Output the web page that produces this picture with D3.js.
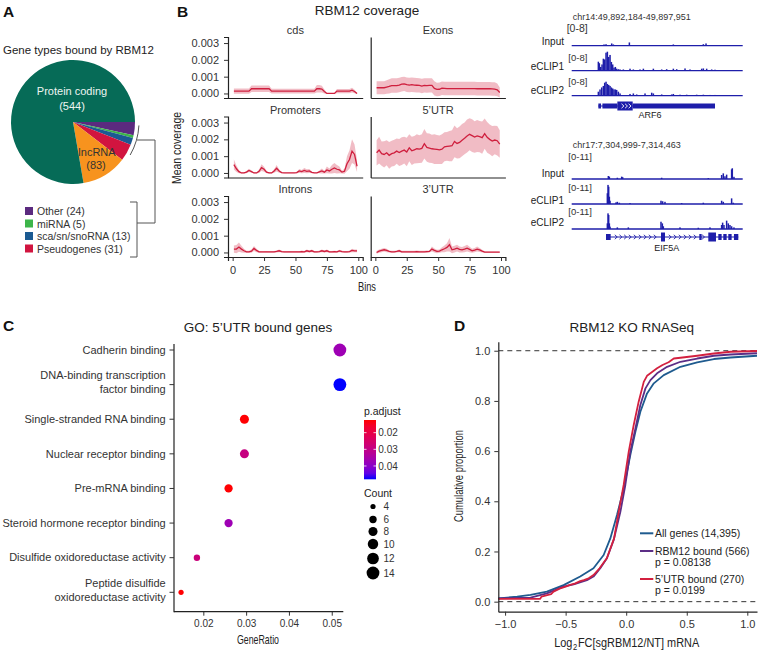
<!DOCTYPE html>
<html><head><meta charset="utf-8">
<script src="https://cdn.jsdelivr.net/npm/d3@7"></script>
<style>
body{margin:0;background:#fff;}
svg{display:block;font-family:"Liberation Sans",Arial,Helvetica,sans-serif;}
</style></head><body>
<svg id="fig" width="759" height="655"></svg>
<script>
// ================= DATA =================
// Panel A
const pieCats   = ["Other","miRNA","sca/sn/snoRNA","Pseudogenes","lncRNA","Protein coding"];
const pieCounts = [24,5,13,31,83,544];
const pieColors = ["#5b2a7f","#3db54a","#1b5a92","#d1143f","#f7931e","#066b57"];
const legendCats = ["Other","miRNA","sca/sn/snoRNA","Pseudogenes"];

// Panel B coverage (values in units of 0.001)
const covPanels = ["cds","Exons","Promoters","5'UTR","Introns","3'UTR"];
const covBins = [1,3,5,7,9,11,13,15,17,19,21,23,25,27,29,31,33,35,37,39,41,43,45,47,49,51,53,55,57,59,61,63,65,67,69,71,73,75,77,79,81,83,85,87,89,91,93,95,97,99];
const covXTicks = [0,25,50,75,100];
const covYTicks = [0,1,2,3];
const cdsMean = [.14,.14,.14,.14,.14,.14,.14,.28,.28,.28, .28,.28,.28,.28,.28,.14,.14,.14,.14,.14, .14,.14,.14,.14,.14,.14,.14,.14,.14,.14, .14,.14,.14,.28,.28,.26,.12,0,0,0, 0,.14,.14,.14,.14,.14,.14,.2,.12,0];
const cdsSE   = [.15,.15,.15,.15,.15,.15,.15,.2,.2,.2, .2,.2,.2,.2,.2,.14,.14,.14,.14,.14, .14,.14,.14,.14,.14,.14,.14,.14,.14,.14, .14,.14,.14,.22,.22,.2,.12,.03,.03,.03, .03,.12,.12,.12,.12,.12,.12,.14,.1,.03];
const exonMean = [.34,.34,.34,.34,.38,.42,.47,.47,.47,.50, .55,.57,.52,.50,.52,.50,.49,.48,.44,.48, .47,.48,.48,.30,.24,.25,.31,.30,.29,.29, .29,.29,.29,.29,.29,.29,.29,.29,.29,.29, .28,.28,.28,.28,.28,.28,.27,.26,.22,.06];
const exonSE   = [.38,.38,.38,.38,.4,.42,.43,.43,.43,.43, .43,.43,.43,.43,.43,.43,.43,.43,.43,.43, .43,.43,.43,.42,.4,.4,.4,.4,.4,.4, .4,.4,.4,.4,.4,.4,.4,.4,.4,.4, .4,.4,.4,.4,.4,.4,.4,.4,.38,.3];
const promMean = [.5,.25,.08,0,0,.05,.15,.08,0,0, .1,.32,.22,.05,0,0,.12,.28,.12,.02, 0,0,0,0,0,.02,.12,.08,.15,.1, .12,.04,0,0,.06,.12,.05,.18,.12,.22, .3,.22,.18,.05,.1,.55,.8,1.3,1.1,.4];
const promSE   = [.3,.2,.1,.03,.03,.06,.1,.06,.03,.03, .1,.2,.15,.06,.03,.03,.1,.2,.1,.04, .02,.02,.02,.02,.02,.04,.12,.1,.15,.12, .12,.05,.02,.02,.08,.15,.08,.2,.15,.25, .3,.25,.2,.08,.15,.45,.55,.7,.6,.35];
const utr5Mean = [1.2,1.36,1.15,1.1,1.2,1.05,1.15,1.2,1.3,1.22, 1.3,1.36,1.25,1.5,1.32,1.38,1.44,1.42,1.46,1.74, 1.52,1.48,1.44,1.42,1.4,1.38,1.42,1.56,1.58,1.6, 1.62,1.88,1.76,1.82,1.95,2.06,2.2,2.3,2.22,2.14, 2.2,2.16,2.1,2.34,2.12,2.0,1.9,1.96,1.92,1.72];
const utr5SE   = [.75,.8,.72,.78,.74,.8,.76,.78,.75,.8, .82,.8,.85,.8,.84,.82,.86,.83,.85,.88, .85,.87,.84,.88,.86,.85,.88,.87,.86,.9, .92,.95,.9,.94,.96,.95,.98,.95,.97,.94, .95,.93,.96,.9,.92,.88,.9,.85,.88,.82];
const intronMean = [.2,.2,.32,.2,.1,.04,.04,.08,.24,.12, .04,.03,.03,.04,.03,.03,.04,.06,.1,.05, .03,.03,.04,.03,.03,.04,.03,.05,.04,.1, .06,.1,.04,.04,.05,.1,.06,.1,.04,.04, .05,.04,.09,.05,.04,.04,.05,.12,.1,.1];
const intronSE   = [.22,.25,.28,.2,.12,.06,.06,.1,.15,.1, .05,.04,.04,.05,.04,.04,.05,.06,.08,.05, .04,.04,.05,.04,.04,.05,.04,.06,.05,.08, .06,.08,.05,.05,.05,.08,.06,.08,.05,.05, .05,.05,.07,.05,.05,.05,.05,.1,.08,.08];
const utr3Mean = [0,.08,.12,.16,.12,.06,.04,.04,.06,.1, .04,.04,.04,.04,.04,.04,.05,.04,.04,.04, .05,.06,.2,.12,.06,.08,.16,.22,.3,.46, .16,.2,.26,.18,.16,.2,.26,.18,.1,.14, .2,.15,.08,.02,.02,.02,.02,.02,.02,.02];
const utr3SE   = [.08,.1,.1,.1,.1,.06,.06,.06,.06,.08, .06,.06,.06,.06,.06,.06,.06,.06,.06,.06, .06,.06,.15,.12,.1,.1,.15,.2,.25,.4, .2,.2,.2,.18,.16,.18,.2,.16,.12,.12, .15,.12,.08,.04,.04,.04,.04,.04,.04,.04];

// Panel B genome tracks (offsets in bp from region start, signal values)
const arf6Region  = ["chr14", 49892184, 49897951];
const arf6Max = 8;
const arf6Input = [[1090,.5],[1158,.6],[1349,.9],[1405,.5],[1945,1.3],[3428,.5],[4440,.6],[4530,.9]];
const arf6Clip1 = [[899,3.6],[933,3.0],[978,1.5],[1023,2.5],[1068,4.8],[1113,4.5],[1158,7.2],[1203,7.6],[1248,5.5],[1293,6.3],[1338,3.5],[1383,2.5],[1427,1.2],[1472,1.5],[1517,.8],[1574,.6],[1630,.5],[1742,.5],[1967,.8],[2079,.5],[2304,.5],[2417,.8],[2754,.8],[3035,.5],[3203,.6],[3428,.8],[3541,.6],[3822,.9],[3990,.5],[4384,.8],[4440,.9],[4552,.8],[4721,.5],[4833,.4]];
const arf6Clip2 = [[899,1.6],[955,2.5],[1012,3.3],[1068,3.9],[1113,5.2],[1158,5.6],[1203,4.7],[1248,4.3],[1293,3.9],[1338,3.3],[1383,2.9],[1427,2.5],[1472,2.5],[1517,2.3],[1574,1.6],[1630,.9],[1967,.7],[2079,.9],[2192,.5],[2473,.9],[2698,1.2],[2754,.9],[3035,.5],[3372,.5],[3428,.7],[3653,.4],[3878,.4],[4215,.4],[4440,.4],[4665,.3],[4833,.3]];
const arf6Exons = [[899,990,"utr"],[1035,1540,"utr"],[1540,2057,"cds"],[2057,4833,"utr"]];
const arf6Strand = [1720,1840,1960];

const eif5aRegion = ["chr17", 7304999, 7314463];
const eif5aMax = 11;
const eif5aInput = [[2028,1.65],[2084,1.3],[2526,.7],[2766,1.3],[2821,1.0],[4979,.7],[7560,.5],[8298,2.2],[8390,3.1],[8482,1.5],[8575,2.4],[8851,5.3],[8888,5.9],[8980,1.2]];
const eif5aClip1 = [[1973,5.9],[2010,10.5],[2047,9.5],[2084,4.0],[2121,1.8],[2453,.9],[2526,1.2],[2637,.7],[3227,.5],[4942,1.8],[5034,1.5],[5163,1.2],[6085,.5],[7284,.7],[8298,1.8],[8390,1.2],[8851,3.1],[8943,.7]];
const eif5aClip2 = [[1973,3.1],[2010,8.6],[2047,7.7],[2084,3.1],[2121,1.3],[2526,.9],[3135,.9],[4942,4.0],[5016,3.1],[5071,1.5],[5993,.9],[7007,.7],[7653,.9],[8298,2.2],[8353,3.5],[8427,2.2],[8575,4.6],[8667,3.1],[8759,2.2],[8851,1.5],[8980,.9]];
const eif5aExons = [[1899,2157,"mid"],[4942,5163,"cds"],[7063,7192,"mid"],[7560,7985,"cds"],[8114,8298,"mid"],[8390,8575,"mid"],[8667,8851,"mid"],[8980,9220,"mid"]];
const eif5aStrand = [2452,2711,2969,3227,3504,3780,4057,4334,4610,5440,5716,5993,6270,6546,6823,7284];
const trackNames = ["Input","eCLIP1","eCLIP2"];

// Panel C
const goTerms = ["Cadherin binding","DNA-binding transcription|factor binding","Single-stranded RNA binding","Nuclear receptor binding","Pre-mRNA binding","Steroid hormone receptor binding","Disulfide oxidoreductase activity","Peptide disulfide|oxidoreductase activity"];
const goRatio = [0.0519,0.0519,0.0296,0.0296,0.0259,0.0259,0.0185,0.0148];
const goCount = [14,14,8,8,7,7,5,4];
const goPadj  = [0.037,0.048,0.0125,0.029,0.0125,0.037,0.028,0.0125];
const goXTicks = [0.02,0.03,0.04,0.05];
const padjTicks = [0.02,0.03,0.04];
const countTicks = [4,6,8,10,12,14];

// Panel D
const ecdfAll = [[-1.06,0.013],[-0.9,0.02],[-0.79,0.027],[-0.655,0.04],[-0.517,0.066],[-0.38,0.10],[-0.27,0.133],[-0.186,0.186],[-0.131,0.252],[-0.076,0.345],[-0.021,0.45],[0.007,0.518],[0.034,0.584],[0.076,0.677],[0.117,0.757],[0.172,0.83],[0.228,0.87],[0.31,0.903],[0.448,0.936],[0.586,0.954],[0.724,0.967],[0.862,0.973],[1.08,0.98]];
const ecdfBound = [[-1.06,0.013],[-0.79,0.016],[-0.655,0.033],[-0.517,0.06],[-0.434,0.069],[-0.324,0.086],[-0.27,0.1],[-0.214,0.133],[-0.159,0.173],[-0.103,0.246],[-0.048,0.358],[-0.007,0.465],[0.034,0.598],[0.076,0.69],[0.117,0.784],[0.159,0.85],[0.2,0.883],[0.255,0.91],[0.338,0.936],[0.448,0.956],[0.586,0.969],[0.724,0.98],[0.862,0.985],[1.08,0.99]];
const ecdfUtr5 = [[-1.06,0.011],[-0.71,0.011],[-0.70,0.02],[-0.62,0.03],[-0.6,0.04],[-0.55,0.052],[-0.5,0.06],[-0.47,0.066],[-0.42,0.073],[-0.38,0.082],[-0.35,0.086],[-0.31,0.093],[-0.27,0.106],[-0.22,0.133],[-0.16,0.173],[-0.10,0.252],[-0.062,0.358],[-0.021,0.465],[0.021,0.598],[0.062,0.704],[0.103,0.797],[0.145,0.876],[0.172,0.90],[0.2,0.91],[0.255,0.93],[0.3,0.943],[0.35,0.954],[0.393,0.969],[0.448,0.972],[0.586,0.98],[0.724,0.989],[0.862,0.996],[1.08,0.999]];
const ecdfLabels = [["All genes (14,395)"],["RBM12 bound (566)","p = 0.08138"],["5\u2019UTR bound (270)","p = 0.0199"]];
const ecdfColors = ["#1f5b8f","#5c2e86","#d3203f"];
const dXTicks = [-1,-0.5,0,0.5,1];
const dYTicks = [0,0.2,0.4,0.6,0.8,1.0];

// ================= DRAW =================
const svg = d3.select("#fig");
svg.append("rect").attr("width",759).attr("height",655).attr("fill","#fff");
const INK = "#222", TICK = "#333";
const NARROW = '"Liberation Sans Narrow","Liberation Sans",Arial,sans-serif';

function T(g,x,y,s,size,o={}){
  const t = g.append("text").attr("x",x).attr("y",y).attr("font-size",size)
    .attr("fill",o.fill||INK).attr("text-anchor",o.anchor||"start").text(s);
  if(o.bold) t.attr("font-weight","bold");
  if(o.len) t.attr("textLength",o.len).attr("lengthAdjust","spacingAndGlyphs").attr("font-family",NARROW);
  return t;
}
function styleAxis(g,size){
  g.selectAll(".domain").attr("stroke",INK).attr("stroke-width",1.2);
  g.selectAll(".tick line").attr("stroke",TICK).attr("stroke-width",1);
  g.selectAll(".tick text").attr("fill",TICK).attr("font-size",size).attr("font-family",'"Liberation Sans",Arial,sans-serif');
}

// ---- Panel labels
T(svg,3,17,"A",15.5,{bold:true,fill:"#111"});
T(svg,177,17,"B",15.5,{bold:true,fill:"#111"});
T(svg,3,331,"C",15.5,{bold:true,fill:"#111"});
T(svg,454,331,"D",15.5,{bold:true,fill:"#111"});

// ---- Panel A: pie
(function(){
  const cx=73, cy=122, R=62;
  T(svg,3,54,"Gene types bound by RBM12",11.5);
  const g = svg.append("g").attr("transform",`translate(${cx},${cy})`);
  const pie = d3.pie().sort(null).value(d=>d.v).startAngle(Math.PI/2).endAngle(Math.PI/2+2*Math.PI);
  const data = pie(pieCats.map((c,i)=>({c,v:pieCounts[i],col:pieColors[i]})));
  const arc = d3.arc().innerRadius(0).outerRadius(R);
  g.selectAll("path.sl").data(data).join("path").attr("class","sl").attr("d",arc)
    .attr("fill",d=>d.data.col).attr("stroke","none");
  T(g,-1,-27,"Protein coding",11,{anchor:"middle",fill:"#eef5f2"});
  T(g,-1,-12,"(" + pieCounts[5] + ")",11,{anchor:"middle",fill:"#eef5f2"});
  T(g,24,34,"lncRNA",11,{anchor:"middle",fill:"#333"});
  T(g,23,47,"(" + pieCounts[4] + ")",11,{anchor:"middle",fill:"#333"});
  // bracket arc
  const p = d3.path();
  p.arc(0,0,R+4, 3*Math.PI/180, 30*Math.PI/180);
  g.append("path").attr("d",p.toString()).attr("fill","none").attr("stroke","#555").attr("stroke-width",1);
  const lg = svg.append("g");
  const line = (pts)=>lg.append("path").attr("d",d3.line()(pts)).attr("fill","none").attr("stroke","#555").attr("stroke-width",1);
  line([[137,140],[155,140],[155,223],[137,223]]);
  line([[130,202],[137,202],[137,257],[130,257]]);
  const rows=[211,223.5,236,248.5];
  legendCats.forEach((c,i)=>{
    const idx = pieCats.indexOf(c);
    lg.append("rect").attr("x",25).attr("y",rows[i]-4).attr("width",8).attr("height",8).attr("fill",pieColors[idx]);
    T(lg,37,rows[i]+4,`${c} (${pieCounts[idx]})`,10.5,{fill:"#333"});
  });
})();

// ---- Panel B: coverage facets
(function(){
  T(svg,367,15,"RBM12 coverage",13.5,{anchor:"middle"});
  const series = {
    "cds":[cdsMean,cdsSE],"Exons":[exonMean,exonSE],"Promoters":[promMean,promSE],
    "5'UTR":[utr5Mean,utr5SE],"Introns":[intronMean,intronSE],"3'UTR":[utr3Mean,utr3SE]};
  const W=134.7, H=61;
  const colX=[228,370.7], rowY=[37,116.5,196];
  const x = d3.scaleLinear().domain([-3.7,103.5]).range([0,W]);
  const y = d3.scaleLinear().domain([-0.27,3.36]).range([H,0]);
  covPanels.forEach((name,k)=>{
    const col=k%2,row=Math.floor(k/2);
    const g = svg.append("g").attr("transform",`translate(${colX[col]},${rowY[row]})`);
    const cid="clipcov"+k;
    g.append("clipPath").attr("id",cid).append("rect").attr("width",W).attr("height",H);
    const [m,s] = series[name];
    const pts = covBins.map((b,i)=>({b,m:m[i],s:s[i]}));
    const pg = g.append("g").attr("clip-path",`url(#${cid})`);
    pg.append("path").datum(pts).attr("d",d3.area().x(d=>x(d.b)).y0(d=>y(d.m-d.s)).y1(d=>y(d.m+d.s)))
      .attr("fill","#d0203f").attr("fill-opacity",0.3);
    pg.append("path").datum(pts).attr("d",d3.line().x(d=>x(d.b)).y(d=>y(d.m)))
      .attr("fill","none").attr("stroke","#cf1f3e").attr("stroke-width",1.3);
    const ya = d3.axisLeft(y).tickSizeOuter(0);
    if(col===0) ya.tickValues(covYTicks).tickFormat(d=>(d/1000).toFixed(3)).tickSize(4).tickPadding(5);
    else ya.tickValues([]);
    const yg = g.append("g").call(ya); styleAxis(yg,11);
    const xa = d3.axisBottom(x).tickSizeOuter(0);
    if(row===2) xa.tickValues(covXTicks).tickFormat(d3.format("d")).tickSize(4).tickPadding(5);
    else xa.tickValues([]);
    const xg = g.append("g").attr("transform",`translate(0,${H})`).call(xa); styleAxis(xg,11);
    T(g,W/2,-3,name.replace("'","\u2019"),11,{anchor:"middle",fill:"#333"});
  });
  T(svg,367,291,"Bins",12.5,{anchor:"middle",len:18});
  T(svg.append("g").attr("transform","translate(180.5,148) rotate(-90)"),0,0,"Mean coverage",12.5,{anchor:"middle",len:72});
})();

// ---- Panel B: genome tracks
(function(){
  const TC = "#1e1eaa";
  const fmt = d3.format(",");
  function region(reg, maxV, tracks, exons, strand, geneName, L){
    const g = svg.append("g");
    const len = reg[2]-reg[1];
    const x = d3.scaleLinear().domain([0,len]).range([571.7,742.7]);
    const h = d3.scaleLinear().domain([0,maxV]).range([0,20]);
    T(g,572.7,L.coordY,`${reg[0]}:${fmt(reg[1])}-${fmt(reg[2])}`,9,{fill:"#333"});
    tracks.forEach((tr,i)=>{
      const base = L.base[i];
      g.append("line").attr("x1",x(0)).attr("x2",x(len)).attr("y1",base).attr("y2",base).attr("stroke",TC).attr("stroke-width",1.3);
      g.selectAll(null).data(tr).join("rect")
        .attr("x",d=>x(d[0])-0.75).attr("width",1.5)
        .attr("y",d=>base-h(d[1])).attr("height",d=>h(d[1])).attr("fill",TC);
      T(g,564,L.nameY[i],trackNames[i],10,{anchor:"end",fill:"#222"});
      T(g,L.rangeX[i],L.rangeY[i],`[0-${maxV}]`,i===0?L.r0size:9.5,{fill:"#333"});
    });
    const gy = L.geneY;
    g.append("line").attr("x1",x(exons[0][0])).attr("x2",x(exons[exons.length-1][1])).attr("y1",gy).attr("y2",gy).attr("stroke",TC).attr("stroke-width",1.2);
    const hh = {utr:5, mid:6, cds:9};
    g.selectAll(null).data(exons).join("rect")
      .attr("x",d=>x(d[0])).attr("width",d=>Math.max(1.5,x(d[1])-x(d[0])))
      .attr("y",d=>gy-hh[d[2]]/2).attr("height",d=>hh[d[2]]).attr("fill",TC);
    strand.forEach(s=>{
      const sx=x(s);
      const inside = exons.some(e=>s>=e[0]&&s<=e[1]);
      g.append("path").attr("d",`M${sx-1.2},${gy-2.2}L${sx+1.2},${gy}L${sx-1.2},${gy+2.2}`)
        .attr("fill","none").attr("stroke",inside?"#fff":TC).attr("stroke-width",0.9);
    });
    T(g,L.geneLabelX,L.geneLabelY,geneName,9,{anchor:"middle",fill:"#222"});
  }
  region(arf6Region, arf6Max, [arf6Input,arf6Clip1,arf6Clip2], arf6Exons, arf6Strand, "ARF6",
    {coordY:20, base:[45.7,70.7,95.7], nameY:[45.3,70.3,94.3], rangeX:[566.7,568.3,568.3], rangeY:[32,60.5,85], r0size:10.5, geneY:106, geneLabelX:650, geneLabelY:118});
  region(eif5aRegion, eif5aMax, [eif5aInput,eif5aClip1,eif5aClip2], eif5aExons, eif5aStrand, "EIF5A",
    {coordY:148, base:[179,204,229], nameY:[177,203.5,226.3], rangeX:[568.3,568.3,568.3], rangeY:[160,190.5,215.3], r0size:9.5, geneY:237, geneLabelX:666.7, geneLabelY:250.5});
})();

// ---- Panel C: GO dot plot
(function(){
  T(svg,258,332,"GO: 5\u2019UTR bound genes",13.5,{anchor:"middle"});
  const g = svg.append("g");
  const x = d3.scaleLinear().domain([0.01315,0.0527]).range([174,343.3]);
  const y = d3.scalePoint().domain(goTerms).range([350,592.3]);
  const color = d3.scaleLinear().domain([0.0124,0.048]).range(["red","blue"]).interpolate(d3.interpolateLab).clamp(true);
  const r = d3.scaleRadial().domain([4,14]).range([2.6,6.4]);
  const xg = g.append("g").attr("transform","translate(0,611.7)").call(d3.axisBottom(x).tickValues(goXTicks).tickFormat(d3.format(".2f")).tickSize(4).tickPadding(4).tickSizeOuter(0));
  styleAxis(xg,10);
  xg.select(".domain").remove();
  g.append("line").attr("x1",174).attr("x2",343.3).attr("y1",611.7).attr("y2",611.7).attr("stroke",INK).attr("stroke-width",1.2);
  g.append("line").attr("x1",174).attr("x2",174).attr("y1",344).attr("y2",612.3).attr("stroke",INK).attr("stroke-width",1.2);
  goTerms.forEach((t,i)=>{
    const yy=y(t);
    g.append("line").attr("x1",169.5).attr("x2",174).attr("y1",yy).attr("y2",yy).attr("stroke",TICK);
    const parts=t.split("|");
    if(parts.length===1) T(g,165.7,yy+3.8,parts[0],11,{anchor:"end",fill:"#333"});
    else { T(g,165.7,yy-9.5+3.8,parts[0],11,{anchor:"end",fill:"#333"}); T(g,165.7,yy+4.5+3.8,parts[1],11,{anchor:"end",fill:"#333"}); }
  });
  g.selectAll("circle.go").data(goTerms).join("circle").attr("class","go")
    .attr("cx",(d,i)=>x(goRatio[i])).attr("cy",d=>y(d)).attr("r",(d,i)=>r(goCount[i]))
    .attr("fill",(d,i)=>color(goPadj[i]));
  T(svg,258,644,"GeneRatio",13,{anchor:"middle",len:42});
  const lg = svg.append("g");
  T(lg,364,414.5,"p.adjust",10.5,{fill:"#222"});
  const gy = d3.scaleLinear().domain([0.0124,0.048]).range([420,479.3]);
  const grad = svg.append("defs").append("linearGradient").attr("id","padjGrad").attr("x1",0).attr("x2",0).attr("y1",0).attr("y2",1);
  d3.range(11).forEach(i=>{ const v=0.0124+i*(0.048-0.0124)/10; grad.append("stop").attr("offset",i/10).attr("stop-color",color(v)); });
  lg.append("rect").attr("x",364).attr("y",420).attr("width",12).attr("height",59.3).attr("fill","url(#padjGrad)");
  padjTicks.forEach(v=>{
    const yy=gy(v);
    lg.append("line").attr("x1",364).attr("x2",366.5).attr("y1",yy).attr("y2",yy).attr("stroke","#fff").attr("stroke-width",0.8);
    lg.append("line").attr("x1",373.5).attr("x2",376).attr("y1",yy).attr("y2",yy).attr("stroke","#fff").attr("stroke-width",0.8);
    T(lg,378.3,yy+3.6,d3.format(".2f")(v),10,{fill:"#333"});
  });
  T(lg,364,497,"Count",10.5,{fill:"#222"});
  const cy=[506.5,519.5,531.5,544,558.5,573];
  countTicks.forEach((c,i)=>{
    lg.append("circle").attr("cx",373).attr("cy",cy[i]).attr("r",r(c)).attr("fill","#000");
    T(lg,383.5,cy[i]+3.6,String(c),10,{fill:"#333"});
  });
})();

// ---- Panel D: ECDF
(function(){
  T(svg,631.7,332,"RBM12 KO RNASeq",13.5,{anchor:"middle"});
  const g = svg.append("g");
  const x = d3.scaleLinear().domain([-1.056,1.08]).range([498.3,757]);
  const y = d3.scaleLinear().domain([-0.04,1.036]).range([611.7,341.7]);
  g.append("clipPath").attr("id","clipD").append("rect").attr("x",498.3).attr("y",341.7).attr("width",258.7).attr("height",270);
  const pg = g.append("g").attr("clip-path","url(#clipD)");
  [0,1].forEach(v=>pg.append("line").attr("x1",498.3).attr("x2",757).attr("y1",y(v)).attr("y2",y(v))
    .attr("stroke","#333").attr("stroke-width",1).attr("stroke-dasharray","5,4"));
  const ln = d3.line().x(d=>x(d[0])).y(d=>y(d[1]));
  [ecdfAll,ecdfBound,ecdfUtr5].forEach((s,i)=>{
    pg.append("path").datum(s).attr("d",ln).attr("fill","none").attr("stroke",ecdfColors[i]).attr("stroke-width",1.8).attr("stroke-linejoin","round");
  });
  const xg = g.append("g").attr("transform","translate(0,611.7)").call(d3.axisBottom(x).tickValues(dXTicks).tickFormat(d3.format(".1f")).tickSize(4).tickPadding(5).tickSizeOuter(0));
  styleAxis(xg,11);
  const yg = g.append("g").attr("transform","translate(498.3,0)").call(d3.axisLeft(y).tickValues(dYTicks).tickFormat(d3.format(".1f")).tickSize(4).tickPadding(4).tickSizeOuter(0));
  styleAxis(yg,11);
  const ly=[533.3,551,579];
  ecdfLabels.forEach((lab,i)=>{
    g.append("line").attr("x1",640).attr("x2",653.3).attr("y1",ly[i]).attr("y2",ly[i]).attr("stroke",ecdfColors[i]).attr("stroke-width",2);
    lab.forEach((s,j)=>T(g,655,ly[i]+3.7+j*10.8,s,10.5,{fill:"#222"}));
  });
  // x-axis title, horizontally condensed via transform
  const xtG = svg.append("g").attr("transform","translate(626.7,647) scale(0.84,1)");
  const xt = xtG.append("text").attr("x",0).attr("y",0).attr("text-anchor","middle").attr("font-size",13)
    .attr("fill",INK).attr("font-family",NARROW);
  xt.append("tspan").text("Log");
  xt.append("tspan").attr("font-size",9).attr("dx",0.8).attr("dy",3).text("2");
  xt.append("tspan").attr("dx",0.8).attr("dy",-3).text("FC[sgRBM12/NT] mRNA");
  T(svg.append("g").attr("transform","translate(463,476) rotate(-90)"),0,0,"Cumulative proportion",12.5,{anchor:"middle",len:92});
})();
</script></body></html>
